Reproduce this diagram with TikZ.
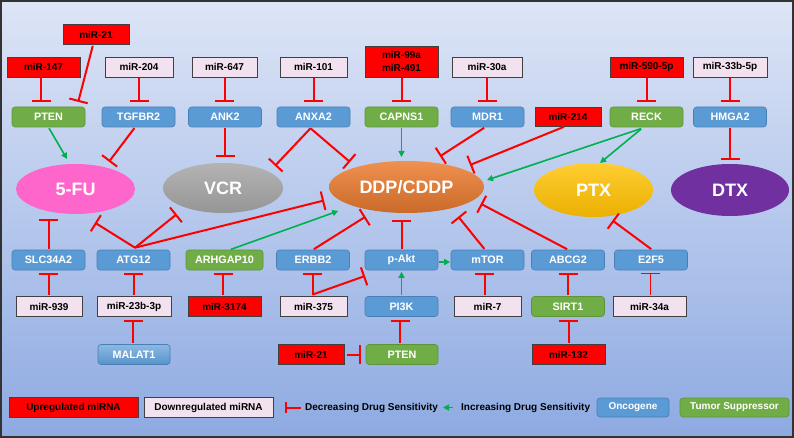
\documentclass[tikz,border=0pt]{standalone}
\usepackage{fontspec}
\setmainfont{Liberation Sans}
\usetikzlibrary{arrows.meta,shapes.geometric}
\definecolor{upred}{HTML}{FF0000}
\definecolor{downpink}{HTML}{F2E1EE}
\definecolor{onco}{HTML}{5B9BD5}
\definecolor{oncod}{HTML}{4A7FB5}
\definecolor{tsup}{HTML}{70AD47}
\definecolor{tsupd}{HTML}{5E9439}
\definecolor{actg}{HTML}{00B050}
\definecolor{inhr}{HTML}{FF0000}
\definecolor{bgtop}{RGB}{221,229,246}
\definecolor{bgbot}{RGB}{142,170,226}
\definecolor{fupink}{HTML}{FF66CC}
\definecolor{vcrgray}{HTML}{A6A6A6}
\definecolor{ddpor}{HTML}{ED7D31}
\definecolor{ptxyel}{HTML}{FFC000}
\definecolor{dtxpur}{HTML}{7030A0}
\begin{document}
\begin{tikzpicture}[x=1pt,y=-1pt,
  mirbase/.style={draw=black!75, line width=0.8pt, minimum width=#1, minimum height=20pt,
    inner sep=0pt, font=\fontsize{10}{13}\selectfont\bfseries},
  mup/.style={mirbase=#1, fill=upred},
  mup/.default=66pt,
  mdown/.style={mirbase=#1, fill=downpink},
  mdown/.default=67pt,
  genebase/.style={rounded corners=3pt, line width=0.6pt, minimum width=#1, minimum height=20pt,
    inner sep=0pt, text=white, font=\fontsize{10.8}{12}\selectfont\bfseries},
  onc/.style={genebase=#1, fill=onco, draw=oncod},
  onc/.default=73pt,
  tsp/.style={genebase=#1, fill=tsup, draw=tsupd},
  tsp/.default=73pt,
  drug/.style={ellipse, inner sep=0pt, text=white, font=\fontsize{18}{20}\selectfont\bfseries},
  inh/.style={draw=inhr, line width=2pt, -{Bar[width=19pt]}, shorten <=1pt, shorten >=5pt},
  act/.style={draw=actg, line width=1.6pt, -{Triangle[length=6pt,width=6pt]}, shorten <=1pt, shorten >=1pt},
  legtext/.style={inner sep=0pt, anchor=west, font=\fontsize{10}{12}\selectfont\bfseries}
]
\shade[top color=bgtop, bottom color=bgbot] (0,0) rectangle (794,438);
\draw[line width=2pt, black!80] (1,1) rectangle (793,437);
\path[use as bounding box] (0,0) rectangle (794,438);

% ---- top miRNAs
\node[mup] (mirA) at (96,34.5) {miR-21};
\node[mup=73pt] (mir147) at (43.5,67) {miR-147};
\node[mdown=68pt] (mir204) at (139,67) {miR-204};
\node[mdown=65pt] (mir647) at (224.5,67) {miR-647};
\node[mdown] (mir101) at (313.5,67) {miR-101};
\node[mup=73pt, minimum height=31pt, align=center] (mir99) at (401.5,61.5) {miR-99a\\miR-491};
\node[mdown=70pt] (mir30a) at (487,67) {miR-30a};
\node[mup=73pt] (mir590) at (646.5,67) {miR-590-5p};
\node[mdown=74pt] (mir33b) at (730,67) {miR-33b-5p};
\node[mup=66pt, minimum height=19pt] (mir214) at (568,116.5) {miR-214};

% ---- top genes
\node[tsp] (pten1) at (48.5,117) {PTEN};
\node[onc] (tgfbr2) at (138.5,117) {TGFBR2};
\node[onc] (ank2) at (225,117) {ANK2};
\node[onc] (anxa2) at (313.5,117) {ANXA2};
\node[tsp] (capns1) at (401.5,117) {CAPNS1};
\node[onc] (mdr1) at (487.5,117) {MDR1};
\node[tsp] (reck) at (646.5,117) {RECK};
\node[onc] (hmga2) at (730,117) {HMGA2};

% ---- drugs
\node[drug, fill=fupink, minimum width=119pt, minimum height=50pt] (fu) at (75.5,189) {5-FU};
\node[drug, top color=vcrgray!85!white, bottom color=vcrgray!90!black, minimum width=120pt, minimum height=50pt] (vcr) at (223,188) {VCR};
\node[drug, top color=ddpor!85!white, bottom color=ddpor!85!black, minimum width=155pt, minimum height=52pt] (ddp) at (406.5,187) {DDP/CDDP};
\node[drug, top color=ptxyel!80!white, bottom color=ptxyel!92!black, minimum width=119pt, minimum height=54pt] (ptx) at (593.5,190) {PTX};
\node[drug, fill=dtxpur, minimum width=118pt, minimum height=52pt] (dtx) at (730,190) {DTX};

% ---- bottom genes
\node[onc] (slc) at (48.5,260) {SLC34A2};
\node[onc] (atg12) at (133.5,260) {ATG12};
\node[tsp=77pt] (arhgap) at (224.5,260) {ARHGAP10};
\node[onc] (erbb2) at (313,260) {ERBB2};
\node[onc] (pakt) at (401.5,260) {p-Akt};
\node[onc] (mtor) at (487.5,260) {mTOR};
\node[onc] (abcg2) at (568,260) {ABCG2};
\node[onc] (e2f5) at (651,260) {E2F5};

% ---- third row
\node[mdown=66pt] (mir939) at (49,306.5) {miR-939};
\node[mdown=74pt] (mir23b) at (134,306.5) {miR-23b-3p};
\node[mup=73pt] (mir3174) at (224.5,306.5) {miR-3174};
\node[mdown] (mir375) at (313.5,306.5) {miR-375};
\node[onc] (pi3k) at (401.5,306.5) {PI3K};
\node[mdown] (mir7) at (487.5,306.5) {miR-7};
\node[tsp] (sirt1) at (568,306.5) {SIRT1};
\node[mdown=73pt] (mir34a) at (649.5,306.5) {miR-34a};

% ---- fourth row
\node[onc=72pt, top color=onco!70!white, bottom color=onco!95!black] (malat1) at (134,354.5) {MALAT1};
\node[mup] (mirB) at (311,354.5) {miR-21};
\node[tsp=72pt] (pten2) at (402,354.5) {PTEN};
\node[mup=73pt] (mir132) at (568.5,354.5) {miR-132};

% ---- legend
\node[mup=129pt] (lup) at (73.5,407.5) {Upregulated miRNA};
\node[mdown=129pt] (ldown) at (208.5,407.5) {Downregulated miRNA};
\node[legtext] (ldec) at (305,407.5) {Decreasing Drug Sensitivity};
\node[legtext] (linc) at (461,407.5) {Increasing Drug Sensitivity};
\node[onc=72pt, minimum height=19pt, font=\fontsize{10}{12}\selectfont\bfseries] (lonc) at (633,407.5) {Oncogene};
\node[tsp=109pt, minimum height=19pt, font=\fontsize{10}{12}\selectfont\bfseries] (ltsp) at (734.5,407.5) {Tumor Suppressor};
\draw[inh, -{Bar[width=11pt]}, shorten <=0pt, shorten >=0pt] ([shift={(-4,0)}]ldec.west) -- ([shift={(-20,0)}]ldec.west);
\draw[act, shorten <=0pt, shorten >=0pt] ([shift={(-8,0)}]linc.west) -- ([shift={(-18,0)}]linc.west);

% ---- top miRNA -> gene inhibitions
\draw[inh] ([shift={(-2.5,0)}]mir147.south) -- ([shift={(-7.5,0)}]pten1.north);
\draw[inh] ([shift={(-3,0)}]mirA.south) -- ([shift={(28.5,0)}]pten1.north);
\draw[inh] (mir204.south) -- (mir204.south |- tgfbr2.north);
\draw[inh] (mir647.south) -- (mir647.south |- ank2.north);
\draw[inh] (mir101.south) -- (mir101.south |- anxa2.north);
\draw[inh] (mir99.south) -- (mir99.south |- capns1.north);
\draw[inh] (mir30a.south) -- (mir30a.south |- mdr1.north);
\draw[inh] (mir590.south) -- (mir590.south |- reck.north);
\draw[inh] (mir33b.south) -- (mir33b.south |- hmga2.north);

% ---- top genes -> drugs
\draw[act, shorten >=0pt] (pten1.south) -- ([shift={(-8.5,-30)}]fu.center);
\draw[inh, shorten >=0pt] ([shift={(-3.5,0)}]tgfbr2.south) -- ([shift={(33.5,-27.3)}]fu.center);
\draw[inh, shorten >=0pt] (ank2.south) -- ([shift={(2,-31)}]vcr.center);
\draw[inh, shorten >=0pt, shorten <=0pt] ([shift={(-3,1)}]anxa2.south) -- ([shift={(52,-22.2)}]vcr.center);
\draw[inh, shorten >=0pt, shorten <=0pt] ([shift={(-3,1)}]anxa2.south) -- ([shift={(-56.5,-25)}]ddp.center);
\draw[act, shorten >=0pt] (capns1.south) -- ([shift={(-5,-30)}]ddp.center);
\draw[inh, shorten >=0pt] ([shift={(-2.5,0)}]mdr1.south) -- ([shift={(33.5,-30.7)}]ddp.center);
\draw[inh, shorten >=0pt] ([shift={(-3,0)}]mir214.south) -- ([shift={(63.5,-22)}]ddp.center);
\draw[act, shorten >=0pt] ([shift={(-4.5,1)}]reck.south) -- ([shift={(80.5,-7)}]ddp.center);
\draw[act, shorten >=0pt] ([shift={(-4.5,1)}]reck.south) -- ([shift={(6.5,-27)}]ptx.center);
\draw[inh, shorten >=0pt] (hmga2.south) -- ([shift={(0,-30)}]dtx.center);

% ---- bottom genes -> drugs
\draw[inh, shorten >=0pt] (slc.north) -- ([shift={(-27,30)}]fu.center);
\draw[inh, shorten >=0pt, shorten <=0pt] ([shift={(1.5,-2)}]atg12.north) -- ([shift={(19.5,33.7)}]fu.center);
\draw[inh, shorten >=0pt, shorten <=0pt] ([shift={(1.5,-2)}]atg12.north) -- ([shift={(-46.3,26.2)}]vcr.center);
\draw[inh, shorten >=0pt, shorten <=0pt] ([shift={(1.5,-2)}]atg12.north) -- ([shift={(-82.5,13.5)}]ddp.center);
\draw[act, shorten >=0pt] ([shift={(5.5,0)}]arhgap.north) -- ([shift={(-68.2,24)}]ddp.center);
\draw[inh, shorten >=0pt] (erbb2.north) -- ([shift={(-41,29.7)}]ddp.center);
\draw[inh, shorten >=0pt] (pakt.north) -- ([shift={(-5,33)}]ddp.center);
\draw[inh, shorten >=0pt] ([shift={(-2.5,0)}]mtor.north) -- ([shift={(51.8,29.7)}]ddp.center);
\draw[inh, shorten >=0pt] (abcg2.north) -- ([shift={(74.3,16.8)}]ddp.center);
\draw[inh, shorten >=0pt] ([shift={(1,0)}]e2f5.north) -- ([shift={(19,30.5)}]ptx.center);

% ---- pathway
\draw[act, shorten <=0.5pt, shorten >=0.5pt] ([shift={(0,2)}]pakt.east) -- ([shift={(0,2)}]mtor.west);
\draw[act, shorten >=1.5pt] (pi3k.north) -- (pakt.south);
\draw[inh, shorten >=3pt, shorten <=0pt] ([shift={(-1,-1.5)}]mir375.north) -- ([shift={(-1,0)}]mir375.north |- erbb2.south);
\draw[inh, shorten >=0pt, shorten <=0pt] ([shift={(-1,-1.5)}]mir375.north) -- ([shift={(-36.5,16)}]pakt.center);
\draw[inh, shorten >=3pt] ([shift={(-0.5,0)}]mir939.north) -- ([shift={(-0.5,0)}]mir939.north |- slc.south);
\draw[inh, shorten >=3pt] ([shift={(-0.5,0)}]mir23b.north) -- ([shift={(-0.5,0)}]mir23b.north |- atg12.south);
\draw[inh, shorten >=3pt] ([shift={(-1.5,0)}]mir3174.north) -- ([shift={(-1.5,0)}]mir3174.north |- arhgap.south);
\draw[inh, shorten >=3.5pt] ([shift={(-1,0)}]malat1.north) -- ([shift={(-1,0)}]malat1.north |- mir23b.south);
\draw[inh, shorten <=2.5pt, shorten >=4.5pt] (mirB.east) -- (pten2.west);
\draw[inh, shorten >=3pt] ([shift={(-2,0)}]pten2.north) -- ([shift={(-2,0)}]pten2.north |- pi3k.south);
\draw[inh, shorten >=3pt] ([shift={(-3,0)}]mir7.north) -- ([shift={(-3,0)}]mir7.north |- mtor.south);
\draw[inh, shorten >=3pt] (sirt1.north) -- (sirt1.north |- abcg2.south);
\draw[inh, shorten >=3pt] (mir132.north) -- (mir132.north |- sirt1.south);
\draw[inh, line width=1pt, shorten >=3pt] ([shift={(0.5,0)}]mir34a.north) -- ([shift={(0.5,0)}]mir34a.north |- e2f5.south);
\end{tikzpicture}
\end{document}
